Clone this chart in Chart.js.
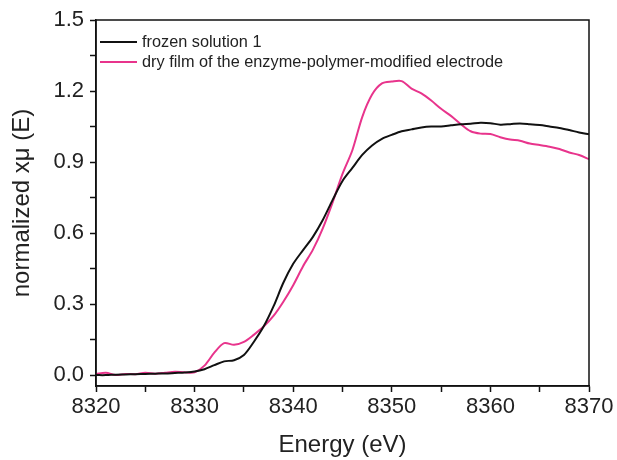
<!DOCTYPE html>
<html>
<head>
<meta charset="utf-8">
<script src="https://cdn.jsdelivr.net/npm/chart.js@4"></script>
<style>
  html, body { margin: 0; padding: 0; background: #fff; }
  #wrap { width: 617px; height: 460px; }
</style>
</head>
<body>
<div id="wrap"><canvas id="xasChart"></canvas></div>
<script>
const energies = [8320, 8321, 8322, 8323, 8324, 8325, 8326, 8327, 8328, 8329,
    8330, 8331, 8332, 8333, 8334, 8335, 8336, 8337, 8338, 8339,
    8340, 8341, 8342, 8343, 8344, 8345, 8346, 8347, 8348, 8349,
    8350, 8351, 8352, 8353, 8354, 8355, 8356, 8357, 8358, 8359,
    8360, 8361, 8362, 8363, 8364, 8365, 8366, 8367, 8368, 8369, 8370];

const frozenSolution = [0.0, 0.0, 0.002, 0.003, 0.004, 0.005, 0.006, 0.007, 0.009, 0.011,
    0.015, 0.025, 0.042, 0.058, 0.063, 0.085, 0.14, 0.205, 0.29, 0.39,
    0.47, 0.528, 0.584, 0.655, 0.74, 0.82, 0.875, 0.93, 0.97, 0.998,
    1.015, 1.03, 1.038, 1.046, 1.05, 1.05, 1.055, 1.06, 1.062, 1.066,
    1.064, 1.058, 1.06, 1.063, 1.06, 1.056, 1.05, 1.044, 1.035, 1.025, 1.017];

const dryFilm = [0.005, 0.01, 0.0, 0.005, 0.004, 0.01, 0.006, 0.01, 0.014, 0.012,
    0.012, 0.04, 0.095, 0.135, 0.128, 0.14, 0.17, 0.205, 0.25, 0.31,
    0.38, 0.46, 0.53, 0.62, 0.73, 0.85, 0.95, 1.09, 1.185, 1.232,
    1.24, 1.242, 1.21, 1.19, 1.16, 1.125, 1.095, 1.06, 1.03, 1.02,
    1.018, 1.005, 0.995, 0.99, 0.978, 0.972, 0.965, 0.955, 0.94, 0.93, 0.912];

const xTicks = [8320, 8325, 8330, 8335, 8340, 8345, 8350, 8355, 8360, 8365, 8370];
const yTicks = [0.0, 0.15, 0.3, 0.45, 0.6, 0.75, 0.9, 1.05, 1.2, 1.35, 1.5];

const FONT = "'Liberation Sans', Arial, sans-serif";

function toPoints(values){
    return energies.map((e, i) => ({ x: e, y: values[i] }));
}

// box round the plot area and the legend inside it
const framePlugin = {
    id: 'frame',
    afterDraw(chart){
        const ctx = chart.ctx;
        const a = chart.chartArea;
        ctx.save();
        ctx.strokeStyle = '#111';
        ctx.lineWidth = 1.5;
        ctx.strokeRect(a.left, a.top, a.right - a.left, a.bottom - a.top);

        ctx.font = '16.3px ' + FONT;
        ctx.textBaseline = 'middle';
        chart.data.datasets.forEach((ds, i) => {
            const y = a.top + 22 + i * 20;
            ctx.strokeStyle = ds.borderColor;
            ctx.lineWidth = 2;
            ctx.beginPath();
            ctx.moveTo(a.left + 4, y);
            ctx.lineTo(a.left + 41, y);
            ctx.stroke();
            ctx.fillStyle = '#222';
            ctx.fillText(ds.label, a.left + 46, y + 1);
        });
        ctx.restore();
    }
};

const ctx = document.getElementById('xasChart').getContext('2d');
new Chart(ctx, {
    type: 'line',
    data: {
        datasets: [{
            label: 'frozen solution 1',
            data: toPoints(frozenSolution),
            borderColor: '#111111',
            borderWidth: 2,
            pointRadius: 0,
            tension: 0.3,
            fill: false
        }, {
            label: 'dry film of the enzyme-polymer-modified electrode',
            data: toPoints(dryFilm),
            borderColor: '#e8348c',
            borderWidth: 2,
            pointRadius: 0,
            tension: 0.3,
            fill: false
        }]
    },
    options: {
        responsive: true,
        maintainAspectRatio: false,
        animation: false,
        layout: { padding: { top: 20, right: 28, left: 4, bottom: 0 } },
        plugins: {
            legend: { display: false },
            tooltip: { enabled: false }
        },
        scales: {
            x: {
                type: 'linear',
                min: 8320,
                max: 8370,
                afterBuildTicks: scale => { scale.ticks = xTicks.map(v => ({ value: v })); },
                afterFit: scale => { scale.height = 74; },
                grid: { drawOnChartArea: false, drawTicks: true, tickLength: 6, tickColor: '#111', tickWidth: 1.5 },
                border: { color: '#111', width: 1.5 },
                ticks: {
                    color: '#222',
                    font: { family: FONT, size: 22 },
                    maxRotation: 0,
                    autoSkip: false,
                    padding: 2,
                    callback: v => (v % 10 === 0 ? String(v) : '')
                },
                title: {
                    display: true,
                    text: 'Energy (eV)',
                    color: '#222',
                    font: { family: FONT, size: 24 },
                    padding: { top: 8, bottom: 0 }
                }
            },
            y: {
                type: 'linear',
                min: -0.046,
                max: 1.5,
                afterBuildTicks: scale => { scale.ticks = yTicks.map(v => ({ value: v })); },
                afterFit: scale => { scale.width = 92; },
                grid: { drawOnChartArea: false, drawTicks: true, tickLength: 6, tickColor: '#111', tickWidth: 1.5 },
                border: { color: '#111', width: 1.5 },
                ticks: {
                    color: '#222',
                    font: { family: FONT, size: 22 },
                    autoSkip: false,
                    padding: 6,
                    callback: v => {
                        const k = Math.round(v / 0.15);
                        return k % 2 === 0 ? v.toFixed(1) : '';
                    }
                },
                title: {
                    display: true,
                    text: 'normalized xμ (E)',
                    color: '#222',
                    font: { family: FONT, size: 24 },
                    padding: { bottom: 0 }
                }
            }
        }
    },
    plugins: [framePlugin]
});
</script>
</body>
</html>
